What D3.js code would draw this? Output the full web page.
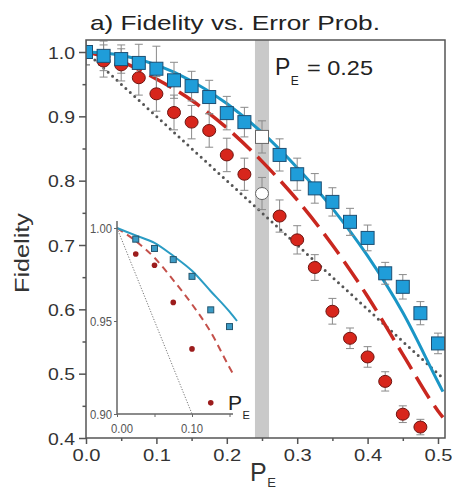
<!DOCTYPE html>
<html>
<head>
<meta charset="utf-8">
<script src="https://cdn.jsdelivr.net/npm/d3@7"></script>
<style>
  html, body { margin: 0; padding: 0; background: #fff; }
  svg { display: block; font-family: "Liberation Sans", Arial, Helvetica, sans-serif; }
</style>
</head>
<body>
<svg id="chart" width="452" height="491"></svg>
<script>
// ---- data ----------------------------------------------------------
const peMeasured = [0, 0.025, 0.05, 0.075, 0.1, 0.125, 0.15, 0.175, 0.2, 0.225, 0.25,
                    0.275, 0.3, 0.325, 0.35, 0.375, 0.4, 0.425, 0.45, 0.475, 0.5];
const blueFidelity = [1.000, 0.994, 0.989, 0.983, 0.974, 0.956, 0.947, 0.930, 0.905, 0.891, 0.868,
                      0.840, 0.810, 0.788, 0.767, 0.736, 0.711, 0.656, 0.635, 0.594, 0.547];
const blueError = [0.020, 0.023, 0.022, 0.029, 0.035, 0.028, 0.023, 0.026, 0.026, 0.023, 0.025,
                   0.025, 0.025, 0.023, 0.022, 0.021, 0.020, 0.017, 0.019, 0.018, 0.016];

const peRed = [0, 0.025, 0.05, 0.075, 0.1, 0.125, 0.15, 0.175, 0.2, 0.225, 0.25,
               0.275, 0.3, 0.325, 0.35, 0.375, 0.4, 0.425, 0.45, 0.475];
const redFidelity = [1.000, 0.986, 0.980, 0.960, 0.935, 0.906, 0.891, 0.878, 0.840, 0.810, 0.780,
                     0.745, 0.708, 0.665, 0.597, 0.555, 0.526, 0.488, 0.437, 0.417];
const redError = [0.020, 0.025, 0.025, 0.027, 0.027, 0.027, 0.026, 0.026, 0.026, 0.025, 0.025,
                  0.025, 0.022, 0.020, 0.020, 0.016, 0.016, 0.015, 0.013, 0.012];

const highlightPE = 0.25;          // open markers and shaded band
const bandPE = [0.24, 0.26];

// theory curves
const curvePE        = [0, 0.05, 0.1, 0.15, 0.2, 0.25, 0.3, 0.35, 0.4, 0.45, 0.5, 0.507];
const curveBlue      = [1.0, 0.995, 0.980, 0.955, 0.920, 0.875, 0.820, 0.757, 0.683, 0.595, 0.487, 0.472];
const curveRed       = [1.0, 0.985, 0.958, 0.925, 0.882, 0.830, 0.770, 0.700, 0.620, 0.530, 0.442, 0.432];
const curveClassical = [1.0, 0.950, 0.900, 0.850, 0.800, 0.750, 0.700, 0.650, 0.600, 0.550, 0.500, 0.493];

// inset (zoom on small error probabilities)
const insetCurvePE   = [0, 0.025, 0.05, 0.075, 0.1, 0.125, 0.15, 0.16];
const insetCurveBlue = [1.0, 0.996, 0.992, 0.985, 0.977, 0.966, 0.955, 0.950];
const insetRedPE     = [0, 0.025, 0.05, 0.075, 0.1, 0.125, 0.15, 0.157];
const insetCurveRed  = [1.0, 0.993, 0.984, 0.972, 0.959, 0.944, 0.925, 0.920];
const insetDotPE     = [0, 0.05, 0.1];
const insetCurveDot  = [1.0, 0.95, 0.90];

const xTicks = [0, 0.1, 0.2, 0.3, 0.4, 0.5];
const xMinor = [0.05, 0.15, 0.25, 0.35, 0.45];
const yTicks = [0.4, 0.5, 0.6, 0.7, 0.8, 0.9, 1.0];
const yMinor = [0.45, 0.55, 0.65, 0.75, 0.85, 0.95];
const insetXTicks = [0, 0.05, 0.1, 0.15];
const insetXLabels = [0, 0.1];
const insetYTicks = [0.90, 0.95, 1.00];

// ---- setup ---------------------------------------------------------
const svg = d3.select("#chart");
const C = {
  axis: "#555",
  text: "#333",
  blue: "#1f9dd9", blueEdge: "#1d4f73", blueLine: "#1a96c6",
  red: "#d7261c", redEdge: "#6e1410", redLine: "#c9271f",
  dots: "#555", err: "#8a8a8a", band: "#c9c9c9"
};

const box = { left: 86, right: 445, top: 40, bottom: 438 };
const x = d3.scaleLinear().domain([0, 0.5]).range([86, 438]);
const y = d3.scaleLinear().domain([0.4, 1.0]).range([438, 52]);

svg.append("defs").append("clipPath").attr("id", "plotClip")
  .append("rect")
  .attr("x", box.left).attr("y", box.top)
  .attr("width", box.right - box.left).attr("height", box.bottom - box.top);

// title
svg.append("text")
  .attr("x", 235).attr("y", 30)
  .attr("text-anchor", "middle")
  .attr("font-size", 21).attr("fill", "#222")
  .attr("textLength", 290).attr("lengthAdjust", "spacingAndGlyphs")
  .text("a) Fidelity vs. Error Prob.");

const plot = svg.append("g").attr("clip-path", "url(#plotClip)");

// shaded band at P_E = 0.25
plot.append("rect")
  .attr("x", x(bandPE[0])).attr("width", x(bandPE[1]) - x(bandPE[0]))
  .attr("y", box.top).attr("height", box.bottom - box.top)
  .attr("fill", C.band);

// theory curves
function curveLine(xs, ys, xs2, ys2) {
  return d3.line().x((d, i) => xs2(xs[i])).y((d, i) => ys2(ys[i])).curve(d3.curveMonotoneX)(ys);
}
plot.append("path")
  .attr("d", curveLine(curvePE, curveClassical, x, y))
  .attr("fill", "none").attr("stroke", C.dots).attr("stroke-width", 3)
  .attr("stroke-linecap", "round").attr("stroke-dasharray", "0 6");
plot.append("path")
  .attr("d", curveLine(curvePE, curveRed, x, y))
  .attr("fill", "none").attr("stroke", C.redLine).attr("stroke-width", 3.5)
  .attr("stroke-dasharray", "25 9");
plot.append("path")
  .attr("d", curveLine(curvePE, curveBlue, x, y))
  .attr("fill", "none").attr("stroke", C.blueLine).attr("stroke-width", 3);

// error bars
function errorBars(pe, vals, errs) {
  const g = plot.append("g").attr("stroke", C.err).attr("stroke-width", 1).attr("fill", "none");
  pe.forEach((p, i) => {
    const cx = x(p), y0 = y(vals[i] - errs[i]), y1 = y(vals[i] + errs[i]);
    g.append("line").attr("x1", cx).attr("x2", cx).attr("y1", y0).attr("y2", y1);
    g.append("line").attr("x1", cx - 4).attr("x2", cx + 4).attr("y1", y0).attr("y2", y0);
    g.append("line").attr("x1", cx - 4).attr("x2", cx + 4).attr("y1", y1).attr("y2", y1);
  });
}
errorBars(peRed, redFidelity, redError);
errorBars(peMeasured, blueFidelity, blueError);

// red circles
plot.append("g").selectAll("ellipse").data(peRed).join("ellipse")
  .attr("cx", d => x(d)).attr("cy", (d, i) => y(redFidelity[i]))
  .attr("rx", 6.5).attr("ry", 6)
  .attr("fill", d => d === highlightPE ? "#fff" : C.red)
  .attr("stroke", d => d === highlightPE ? "#666" : C.redEdge).attr("stroke-width", 1);

// blue squares
plot.append("g").selectAll("rect").data(peMeasured).join("rect")
  .attr("x", d => x(d) - 6.5).attr("y", (d, i) => y(blueFidelity[i]) - 6.5)
  .attr("width", 13).attr("height", 13)
  .attr("fill", d => d === highlightPE ? "#fff" : C.blue)
  .attr("stroke", d => d === highlightPE ? "#666" : C.blueEdge).attr("stroke-width", 1);

// frame
svg.append("rect")
  .attr("x", box.left).attr("y", box.top)
  .attr("width", box.right - box.left).attr("height", box.bottom - box.top)
  .attr("fill", "none").attr("stroke", C.axis).attr("stroke-width", 1.5);

// x axis
const xAxis = svg.append("g").attr("transform", `translate(0,${box.bottom})`);
xAxis.call(d3.axisBottom(x).tickValues(xTicks).tickSize(6).tickFormat(d3.format(".1f")));
xAxis.select(".domain").remove();
xAxis.selectAll(".tick line").attr("stroke", C.axis).attr("stroke-width", 1.5);
xAxis.selectAll(".tick text")
  .attr("y", 23).attr("dy", null)
  .attr("font-size", 17).attr("fill", C.text).attr("font-family", null)
  .attr("textLength", 28).attr("lengthAdjust", "spacingAndGlyphs");
const xMinorAxis = svg.append("g").attr("transform", `translate(0,${box.bottom})`);
xMinorAxis.call(d3.axisBottom(x).tickValues(xMinor).tickSize(3).tickFormat(""));
xMinorAxis.select(".domain").remove();
xMinorAxis.selectAll(".tick line").attr("stroke", C.axis).attr("stroke-width", 1.5);

// y axis
const yAxis = svg.append("g").attr("transform", `translate(${box.left},0)`);
yAxis.call(d3.axisLeft(y).tickValues(yTicks).tickSize(7).tickFormat(d3.format(".1f")));
yAxis.select(".domain").remove();
yAxis.selectAll(".tick line").attr("stroke", C.axis).attr("stroke-width", 1.5);
yAxis.selectAll(".tick text")
  .attr("x", -11).attr("dy", "0.36em")
  .attr("font-size", 17).attr("fill", C.text).attr("font-family", null)
  .attr("textLength", 27).attr("lengthAdjust", "spacingAndGlyphs");
const yMinorAxis = svg.append("g").attr("transform", `translate(${box.left},0)`);
yMinorAxis.call(d3.axisLeft(y).tickValues(yMinor).tickSize(3.5).tickFormat(""));
yMinorAxis.select(".domain").remove();
yMinorAxis.selectAll(".tick line").attr("stroke", C.axis).attr("stroke-width", 1.5);

// axis titles
svg.append("text")
  .attr("transform", "translate(29,253) rotate(-90)")
  .attr("text-anchor", "middle").attr("font-size", 21).attr("fill", C.text)
  .attr("textLength", 80).attr("lengthAdjust", "spacingAndGlyphs")
  .text("Fidelity");

// "P" with a subscript "E" just after it
function subscriptLabel(px, py, size, subDy, subSize, color) {
  const t = svg.append("text").attr("x", px).attr("y", py)
    .attr("font-size", size).attr("fill", color);
  t.append("tspan").text("P");
  t.append("tspan").attr("dx", 0.5).attr("dy", subDy).attr("font-size", subSize).text("E");
}
subscriptLabel(250, 481, 25, 6, 13, C.text);

// P_E = 0.25 annotation
subscriptLabel(275, 75, 23, 10, 12, "#222");
svg.append("text").attr("x", 307).attr("y", 75)
  .attr("font-size", 21).attr("fill", "#222")
  .attr("textLength", 66).attr("lengthAdjust", "spacingAndGlyphs")
  .text("= 0.25");

// ---- inset ---------------------------------------------------------
const ix = d3.scaleLinear().domain([0, 0.1]).range([117, 192]);
const iy = d3.scaleLinear().domain([0.90, 1.00]).range([414, 228]);
const inset = svg.append("g");

inset.append("path")
  .attr("d", curveLine(insetDotPE, insetCurveDot, ix, iy))
  .attr("fill", "none").attr("stroke", "#777").attr("stroke-width", 1)
  .attr("stroke-dasharray", "1.2 1.6");
inset.append("path")
  .attr("d", curveLine(insetRedPE, insetCurveRed, ix, iy))
  .attr("fill", "none").attr("stroke", "#c4504a").attr("stroke-width", 2)
  .attr("stroke-dasharray", "7 5");
inset.append("path")
  .attr("d", curveLine(insetCurvePE, insetCurveBlue, ix, iy))
  .attr("fill", "none").attr("stroke", "#2a9cc4").attr("stroke-width", 2);

const insetRed = peRed.map((p, i) => [p, redFidelity[i]]).filter(d => d[0] > 0 && d[0] <= 0.13);
const insetBlue = peMeasured.map((p, i) => [p, blueFidelity[i]]).filter(d => d[0] > 0 && d[0] <= 0.155);

inset.append("g").selectAll("circle").data(insetRed).join("circle")
  .attr("cx", d => ix(d[0])).attr("cy", d => iy(d[1])).attr("r", 2.8)
  .attr("fill", "#9c1c1c");
inset.append("g").selectAll("rect").data(insetBlue).join("rect")
  .attr("x", d => ix(d[0]) - 3).attr("y", d => iy(d[1]) - 3)
  .attr("width", 6).attr("height", 6)
  .attr("fill", "#3b9bc6").attr("stroke", "#25566e").attr("stroke-width", 1);

// inset axes
inset.append("path")
  .attr("d", `M117,221V414H233`)
  .attr("fill", "none").attr("stroke", "#666").attr("stroke-width", 1.5);

const ixAxis = inset.append("g").attr("transform", "translate(0,414)");
ixAxis.call(d3.axisBottom(ix).tickValues(insetXTicks).tickSize(3).tickFormat(""));
ixAxis.select(".domain").remove();
ixAxis.selectAll(".tick line").attr("stroke", "#666").attr("stroke-width", 1);
inset.append("g").selectAll("text").data(insetXLabels).join("text")
  .attr("x", d => ix(d)).attr("dx", (d, i) => i === 0 ? 5 : 0).attr("y", 433)
  .attr("text-anchor", "middle").attr("font-size", 13).attr("fill", "#555")
  .attr("textLength", 22).attr("lengthAdjust", "spacingAndGlyphs")
  .text(d3.format(".2f"));

const iyAxis = inset.append("g").attr("transform", "translate(117,0)");
iyAxis.call(d3.axisLeft(iy).tickValues(insetYTicks).tickSize(3).tickFormat(d3.format(".2f")));
iyAxis.select(".domain").remove();
iyAxis.selectAll(".tick line").attr("stroke", "#666").attr("stroke-width", 1);
iyAxis.selectAll(".tick text")
  .attr("x", -5).attr("dy", "0.36em")
  .attr("font-size", 13).attr("fill", "#555").attr("font-family", null)
  .attr("textLength", 22).attr("lengthAdjust", "spacingAndGlyphs");

subscriptLabel(228, 410, 21, 9, 11, "#222");
</script>
</body>
</html>
